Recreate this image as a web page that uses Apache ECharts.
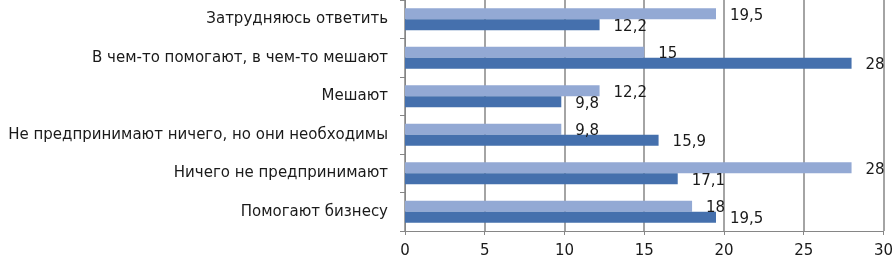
<!DOCTYPE html>
<html>
<head>
<meta charset="utf-8">
<script src="https://cdn.jsdelivr.net/npm/echarts@6/dist/echarts.min.js"></script>
<style>
html,body{margin:0;padding:0;background:#fff;}
#chart{width:896px;height:259px;}
</style>
</head>
<body>
<div id="chart"></div>
<script>
const categories = [
  'Помогают бизнесу',
  'Ничего не предпринимают',
  'Не предпринимают ничего, но они необходимы',
  'Мешают',
  'В чем-то помогают, в чем-то мешают',
  'Затрудняюсь ответить'
];
const lightValues = [18, 28, 9.8, 12.2, 15, 19.5];
const darkValues = [19.5, 17.1, 15.9, 9.8, 28, 12.2];
const xTicks = [0, 5, 10, 15, 20, 25, 30];

const FONT = '"DejaVu Sans", Verdana, sans-serif';
const chart = echarts.init(document.getElementById('chart'));
const fmt = p => String(p.value).replace('.', ',');
const labelStyle = {
  show: true, position: 'right', distance: 14, offset: [0, 2],
  fontFamily: FONT, fontSize: 15, color: '#1a1a1a',
  formatter: fmt
};
chart.setOption({
  animation: false,
  grid: { left: 405, right: 11, top: 0, bottom: 27, containLabel: false },
  xAxis: {
    type: 'value', min: xTicks[0], max: xTicks[xTicks.length - 1], interval: 5,
    axisLine: { show: true, lineStyle: { color: '#868686', width: 1 } },
    axisTick: { show: true, length: 4, lineStyle: { color: '#868686' } },
    axisLabel: { fontFamily: FONT, fontSize: 15, color: '#1a1a1a', margin: 13 },
    splitLine: { show: true, lineStyle: { color: '#868686', width: 1.5 } }
  },
  yAxis: {
    type: 'category', data: categories,
    axisLine: { show: true, lineStyle: { color: '#868686', width: 1 } },
    axisTick: { show: true, length: 5, lineStyle: { color: '#868686' } },
    axisLabel: { fontFamily: FONT, fontSize: 15, color: '#1a1a1a', margin: 17 }
  },
  series: [
    { name: 'light', type: 'bar', data: lightValues, barWidth: 11, barGap: '0%',
      itemStyle: { color: '#93a9d4' }, label: labelStyle },
    { name: 'dark', type: 'bar', data: darkValues, barWidth: 11, barGap: '0%',
      itemStyle: { color: '#4570ad' }, label: labelStyle }
  ]
});
</script>
</body>
</html>
